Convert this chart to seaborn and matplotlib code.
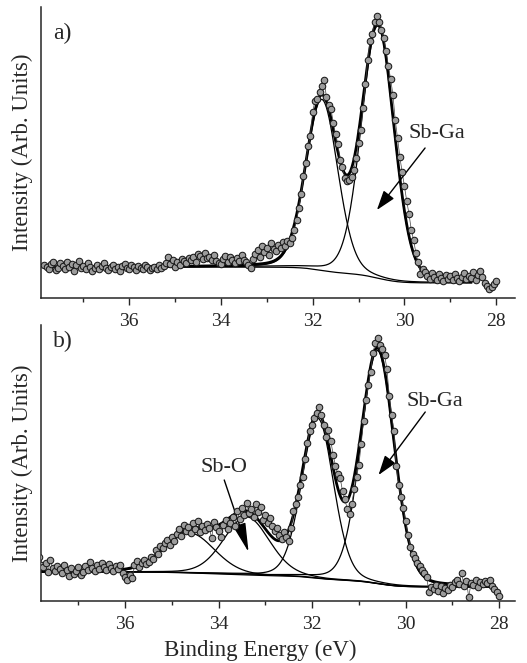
import numpy as np
import pandas as pd
import matplotlib
matplotlib.use("Agg")
import matplotlib.pyplot as plt
import seaborn as sns

# ---------------- data ----------------
energy_start, energy_stop, n_points = 37.85, 28.00, 198   # measurement grid, 0.05 eV step

intensity_a = [
    33, 31, 29, 34, 36, 28, 30, 35, 32, 29,
    36, 31, 34, 27, 33, 37, 30, 32, 29, 35,
    31, 27, 30, 33, 29, 32, 35, 30, 28, 31,
    33, 29, 31, 27, 32, 34, 30, 29, 33, 31,
    28, 32, 30, 29, 33, 31, 28, 30,
    31, 29, 33, 30, 32, 35, 41, 34, 38, 31,
    36, 33, 39, 37, 35, 40, 38, 41, 36, 44,
    42, 39, 45, 40, 41, 38, 43, 37, 35, 34,
    39, 42, 36, 41, 38, 35, 40, 37, 43, 38,
    36, 33, 30, 39,
    44, 48, 41, 52, 46, 50, 43, 55, 49, 47,
    53, 50, 56, 52, 57, 55, 60, 68, 78, 90,
    104, 122, 135, 152, 162, 186, 197, 199, 206, 212,
    218, 201, 193, 189, 175, 164, 154, 138, 131, 120,
    117, 118, 121, 128, 140, 155, 168, 190, 214, 238,
    257, 264, 276, 282, 276, 268, 260, 247, 232, 219,
    203, 178, 160, 141, 126, 112, 97, 84, 68, 58,
    45, 36, 24, 29,
    26, 22, 19, 25, 21, 18, 24, 20, 17, 23,
    19, 22, 18, 24, 20, 17, 21, 25, 19, 22,
    20, 26, 18, 23, 27, 21, 15, 12, 9, 11,
    14, 17,
]

intensity_b = [
    44, 36, 34, 38, 29, 41, 33, 30, 35, 32,
    28, 36, 31, 25, 33, 27, 30, 34, 26, 29,
    35, 31, 39, 33, 30, 36, 32, 38, 34, 31,
    37, 33, 30, 35, 32, 36, 28, 24, 21, 26,
    23, 36, 40, 34, 38, 41, 37, 39, 44, 42,
    51, 47, 55, 53, 58, 61, 56, 64, 60, 67,
    72, 65,
    76, 70, 74, 68, 78, 72, 80, 69, 75, 71,
    77, 73, 63, 79, 74, 70, 64, 76, 81, 72,
    78, 84, 75, 90, 82, 93, 86, 98, 88, 92,
    84, 97, 89, 94, 81, 86, 78, 83, 75, 70,
    73, 66, 62, 69, 64,
    60, 73, 90, 97, 104, 116, 124, 142, 158, 170,
    176, 183, 188, 194, 186, 176, 164, 171, 160, 146,
    135, 127, 123, 110, 102, 92, 87, 97, 112, 124,
    136, 157, 180, 201, 216, 229, 248, 258, 263, 256,
    252, 246, 232, 205, 186, 170, 135, 116, 104, 93,
    80, 66, 54, 47, 43, 38, 35, 31, 28,
    24, 9, 14, 12, 16, 10, 15, 8, 13, 11,
    16, 14, 19, 21, 17, 28, 15, 20, 4, 18,
    16, 21, 14, 19, 17, 20, 18, 21, 15, 12,
    9, 5,
]

# fitted components (pseudo-Voigt): centre (eV), height, FWHM (eV)
peaks_a_center = [31.80, 30.58]
peaks_a_height = [171, 252]
peaks_a_fwhm = [0.82, 0.84]
background_a = [31, 15]            # high-BE level, low-BE level
fit_range_a = [37.85, 28.53]

peaks_b_center = [34.62, 33.40, 31.88, 30.60]
peaks_b_height = [40, 58, 160, 233]
peaks_b_fwhm = [1.25, 1.15, 0.80, 0.84]
background_b = [29, 14]
fit_range_b = [37.80, 28.12]
lorentz_fraction = 0.15

tick_major = [36, 34, 32, 30, 28]
tick_minor = [37, 35, 33, 31, 29]


def pseudo_voigt(e, c, h, w, m):
    x = (e - c) / w
    g = np.exp(-4 * np.log(2) * x ** 2)
    lo = 1.0 / (1.0 + 4 * x ** 2)
    return h * ((1 - m) * g + m * lo)


def fit_curves(erange, centers, heights, fwhms, bg):
    e = np.linspace(erange[1], erange[0], 600)  # ascending
    comps = [pseudo_voigt(e, c, h, w, lorentz_fraction)
             for c, h, w in zip(centers, heights, fwhms)]
    total = np.sum(comps, axis=0)
    cum = np.concatenate([[0], np.cumsum((total[1:] + total[:-1]) / 2 * np.diff(e))])
    shirley = bg[1] + (bg[0] - bg[1]) * cum / cum[-1]
    rows = [pd.DataFrame({"E": e, "I": shirley, "curve": "background"})]
    for k, comp in enumerate(comps):
        rows.append(pd.DataFrame({"E": e, "I": shirley + comp, "curve": f"peak{k}"}))
    rows.append(pd.DataFrame({"E": e, "I": shirley + total, "curve": "envelope"}))
    return pd.concat(rows, ignore_index=True)


energy = np.linspace(energy_start, energy_stop, n_points)
df_a = pd.DataFrame({"E": energy, "I": intensity_a})
df_b = pd.DataFrame({"E": energy, "I": intensity_b})
fit_a = fit_curves(fit_range_a, peaks_a_center, peaks_a_height, peaks_a_fwhm, background_a)
fit_b = fit_curves(fit_range_b, peaks_b_center, peaks_b_height, peaks_b_fwhm, background_b)

# ---------------- style ----------------
sns.set_style("ticks")
plt.rcParams["font.family"] = ["Liberation Serif", "DejaVu Serif"]
plt.rcParams["axes.linewidth"] = 1.1

fig = plt.figure(figsize=(5.27, 6.63), dpi=100)
ax_a = fig.add_axes([41 / 527, 1 - 298 / 663, 474 / 527, 291 / 663])
ax_b = fig.add_axes([41 / 527, 1 - 601 / 663, 474 / 527, 276 / 663])
ax_b.patch.set_visible(False)
ax_a.patch.set_visible(False)


def draw(ax, df, fit, xlim, ylim, label):
    for name, grp in fit.groupby("curve", sort=False):
        lw = 2.0 if name == "envelope" else 0.9
        sns.lineplot(data=grp, x="E", y="I", ax=ax, color="black", lw=lw,
                     estimator=None, sort=False, zorder=2)
    sns.lineplot(data=df, x="E", y="I", ax=ax, color="#444444", lw=0.5,
                 estimator=None, zorder=3)
    sns.scatterplot(data=df, x="E", y="I", ax=ax, s=22, color="#9c9c9c",
                    edgecolor="#1a1a1a", linewidth=0.75, zorder=4)
    ax.set_xlim(*xlim)
    ax.set_ylim(*ylim)
    ax.set_xticks(tick_major)
    ax.set_xticks(tick_minor, minor=True)
    ax.set_yticks([])
    ax.tick_params(axis="x", which="major", direction="out", length=5, width=1,
                   pad=6, labelsize=14)
    ax.tick_params(axis="x", which="minor", direction="out", length=3, width=1)
    sns.despine(ax=ax)
    ax.set_ylabel("Intensity (Arb. Units)", fontsize=16.5, labelpad=6)
    ax.set_xlabel("")
    ax.text(0.025, 0.91 if label == "a)" else 0.94, label, transform=ax.transAxes,
            fontsize=17, ha="left", va="center")


draw(ax_a, df_a, fit_a, (37.92, 27.59), (0, 291), "a)")
draw(ax_b, df_b, fit_b, (37.80, 27.66), (0, 276), "b)")

ax_b.set_xlabel("Binding Energy (eV)", fontsize=16.5)
ax_b.xaxis.set_label_coords(0.462, -0.14)

arrow = dict(arrowstyle="-|>,head_length=0.6,head_width=0.2", color="black",
             lw=1.0, mutation_scale=20, shrinkA=0, shrinkB=0)
arrow_long = dict(arrowstyle="-|>,head_length=0.9,head_width=0.2", color="black",
                  lw=1.0, mutation_scale=20, shrinkA=0, shrinkB=0)

ax_a.text(29.29, 164, "Sb-Ga", fontsize=16, ha="center", va="center")
ax_a.annotate("", xy=(30.60, 88), xytext=(29.55, 150), arrowprops=arrow)

ax_b.text(29.38, 199, "Sb-Ga", fontsize=16, ha="center", va="center")
ax_b.annotate("", xy=(30.58, 126), xytext=(29.58, 189), arrowprops=arrow)
ax_b.text(33.88, 134, "Sb-O", fontsize=16, ha="center", va="center")
ax_b.annotate("", xy=(33.36, 49), xytext=(33.88, 121), arrowprops=arrow_long)

fig.savefig("out.png", dpi=100)
